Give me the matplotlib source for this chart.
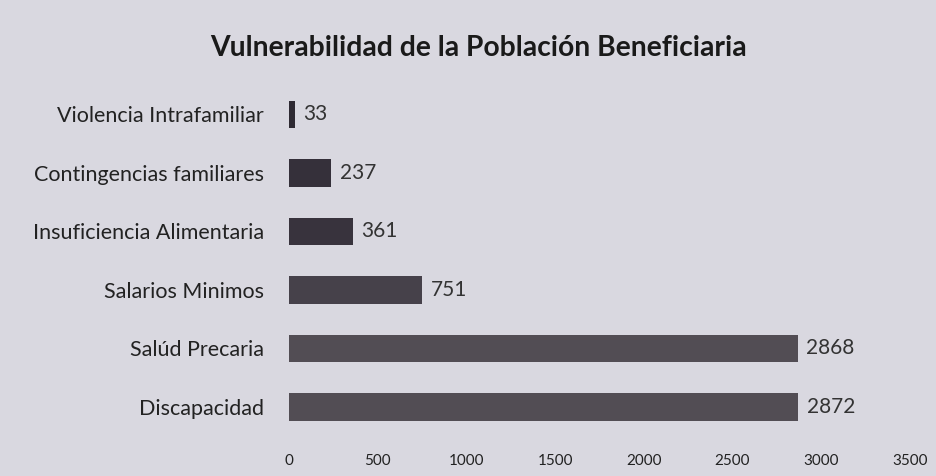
import matplotlib.pyplot as plt

categories = ["Violencia Intrafamiliar", "Contingencias familiares",
              "Insuficiencia Alimentaria", "Salarios Minimos",
              "Salúd Precaria", "Discapacidad"]
values = [33, 237, 361, 751, 2868, 2872]
xticks = [0, 500, 1000, 1500, 2000, 2500, 3000, 3500]

plt.rcParams['font.family'] = ['Lato', 'DejaVu Sans']

bg = "#d9d8e0"
fig = plt.figure(figsize=(9.36, 4.76), dpi=100, facecolor=bg)
ax = fig.add_axes([0.309, 0.084, 0.663, 0.737], facecolor=bg)

colors = ["#2e2a33", "#35303a", "#38333d", "#46414a", "#524d54", "#524d54"]
pos = list(range(len(categories)))
ax.barh(pos, values, height=0.47, color=colors)

for p, v in zip(pos, values):
    ax.annotate(str(v), (v, p), xytext=(6, 0), textcoords="offset points",
                va="center", ha="left", fontsize=15, color="#333333")

ax.set_xlim(0, 3500)
ax.set_ylim(len(categories) - 0.5, -0.5)
ax.set_yticks(pos)
ax.set_yticklabels(categories, fontsize=15.5, color="#222222")
ax.set_xticks(xticks)
ax.set_xticklabels([str(t) for t in xticks], fontsize=11, color="#222222")
ax.tick_params(axis="y", length=0, pad=18)
ax.tick_params(axis="x", length=0, pad=13)
for s in ax.spines.values():
    s.set_visible(False)

fig.text(0.511, 0.9, "Vulnerabilidad de la Población Beneficiaria",
         ha="center", va="center", fontsize=20.3, fontweight="bold", color="#1a1a1a")

fig.savefig("out.png", dpi=100, facecolor=bg)
